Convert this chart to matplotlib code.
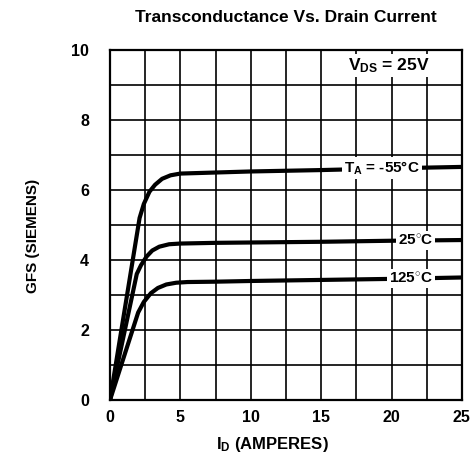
#Transconductancia vs corriente de drenaje (hoja de datos)

import matplotlib
matplotlib.use("Agg")
import matplotlib.pyplot as plt
import numpy as np

plt.rcParams['font.family'] = ['Liberation Sans', 'DejaVu Sans']
plt.rcParams['font.weight'] = 'bold'
plt.rcParams['axes.labelweight'] = 'bold'
plt.rcParams['axes.titleweight'] = 'bold'
plt.rcParams['mathtext.fontset'] = 'custom'
plt.rcParams['mathtext.rm'] = 'Liberation Sans:bold'
plt.rcParams['mathtext.it'] = 'Liberation Sans:bold'
plt.rcParams['mathtext.bf'] = 'Liberation Sans:bold'
plt.rcParams['mathtext.default'] = 'rm'

#Datos

id_m55 = [0, 2.1, 2.4, 2.8, 3.2, 3.7, 4.3, 5.0, 7.5, 10, 15, 20, 25]
gfs_m55 = [0, 5.2, 5.6, 5.95, 6.15, 6.32, 6.42, 6.47, 6.5, 6.53, 6.57, 6.62, 6.66]

id_25 = [0, 1.9, 2.2, 2.6, 3.0, 3.5, 4.2, 5.0, 7.5, 10, 15, 20, 25]
gfs_25 = [0, 3.6, 3.85, 4.1, 4.27, 4.38, 4.45, 4.47, 4.49, 4.5, 4.52, 4.55, 4.57]

id_125 = [0, 2.0, 2.4, 2.9, 3.4, 4.0, 4.7, 5.5, 7.5, 10, 15, 20, 25]
gfs_125 = [0, 2.5, 2.8, 3.05, 3.2, 3.3, 3.35, 3.37, 3.38, 3.4, 3.43, 3.46, 3.5]

x_ticks = [0, 5, 10, 15, 20, 25]
y_ticks = [0, 2, 4, 6, 8, 10]

fig = plt.figure(figsize=(4.73, 4.55), dpi=100)
ax = fig.add_axes([0.2326, 0.121, 0.744, 0.769])

#Cuadricula
for gx in np.arange(0, 25.1, 2.5):
    ax.axvline(gx, color='k', lw=1.2, zorder=1)
for gy in np.arange(0, 10.1, 1):
    ax.axhline(gy, color='k', lw=1.2, zorder=1)

#Curvas
for xs, ys in [(id_m55, gfs_m55), (id_25, gfs_25), (id_125, gfs_125)]:
    ax.plot(xs, ys, color='k', lw=3, solid_joinstyle='round',
            solid_capstyle='round', zorder=2)

box = dict(facecolor='white', edgecolor='none', pad=1.5)
ax.text(19.3, 6.62, r"T$_{A}$ = -55°C", ha='center', va='center',
        fontsize=11, bbox=box, zorder=3)
ax.text(21.7, 4.55, r"25$^{\circ}$C", ha='center', va='center',
        fontsize=11, bbox=box, zorder=3)
ax.text(21.4, 3.47, r"125$^{\circ}$C", ha='center', va='center',
        fontsize=11, bbox=box, zorder=3)
ax.text(19.8, 9.55, r"V$_{DS}$ = 25V", ha='center', va='center',
        fontsize=12.5, bbox=box, zorder=3)

ax.set_xlim(0, 25)
ax.set_ylim(0, 10)
ax.set_xticks(x_ticks)
ax.set_yticks(y_ticks)
ax.tick_params(axis='y', length=0, labelsize=11.5, pad=15)
ax.tick_params(axis='x', length=0, labelsize=11.5, pad=7)
for s in ax.spines.values():
    s.set_linewidth(1.6)

ax.set_title("Transconductance Vs. Drain Current", fontsize=12.5, pad=20)
ax.set_ylabel("GFS (SIEMENS)", fontsize=11)
ax.yaxis.set_label_coords(-0.198, 0.47)
ax.set_xlabel(r"I$_{D}$ (AMPERES)", fontsize=12)
ax.xaxis.set_label_coords(0.46, -0.1)

plt.savefig("out.png", dpi=100)
